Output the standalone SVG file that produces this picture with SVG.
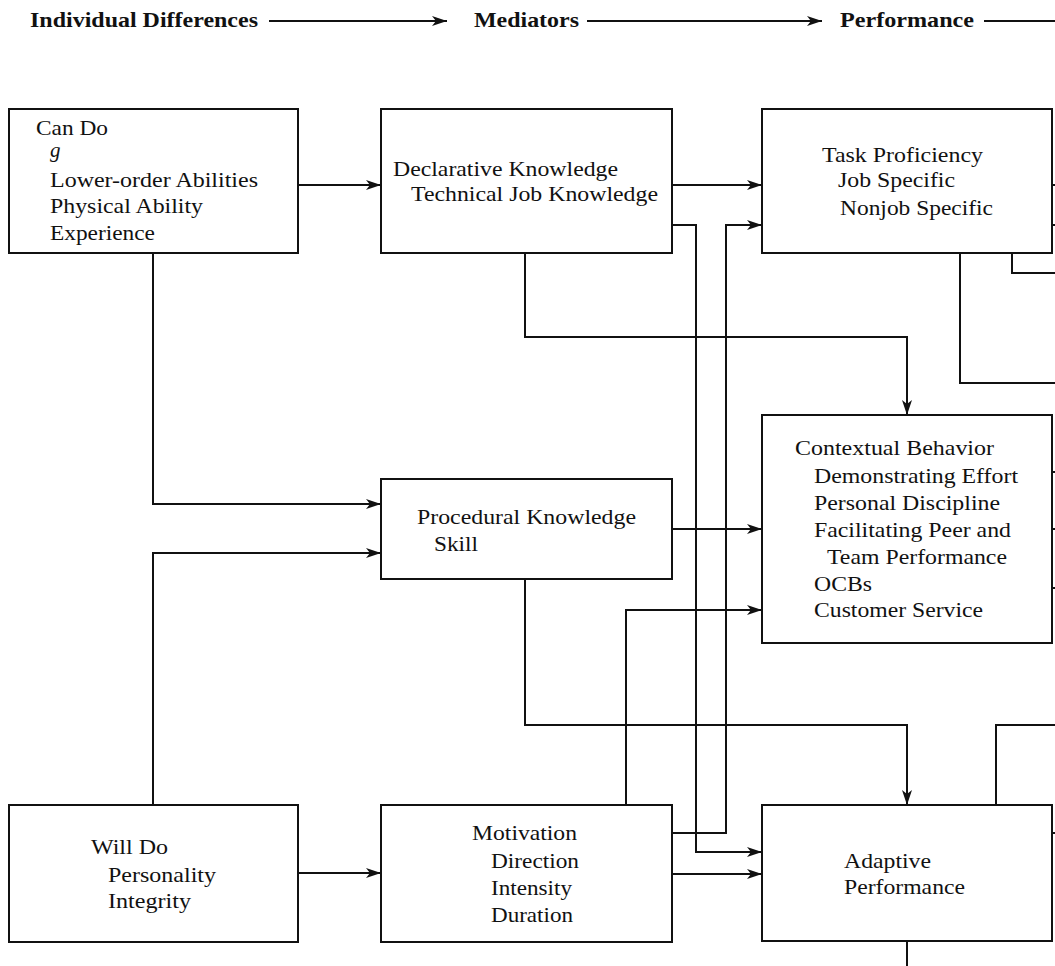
<svg xmlns="http://www.w3.org/2000/svg" width="1055" height="966" viewBox="0 0 1055 966">
<style>
.box{fill:#fff;stroke:#111;stroke-width:2}
.c{fill:none;stroke:#111;stroke-width:2}
.a{marker-end:url(#arr)}
text{font-family:"Liberation Serif","Times New Roman",Times,serif;font-size:21px;fill:#111}
.h{font-weight:bold}
</style>
<defs>
<marker id="arr" markerUnits="userSpaceOnUse" markerWidth="16" markerHeight="12" refX="15" refY="5" orient="auto">
<path d="M0,0 L15,5 L0,10 L4,5 z" fill="#111"/>
</marker>
</defs>
<rect width="1055" height="966" fill="#fff"/>
<g id="header">
<text class="h" x="30" y="27" textLength="228" lengthAdjust="spacingAndGlyphs">Individual Differences</text>
<text class="h" x="474" y="27" textLength="105" lengthAdjust="spacingAndGlyphs">Mediators</text>
<text class="h" x="840" y="27" textLength="134" lengthAdjust="spacingAndGlyphs">Performance</text>
</g>
<g id="connectors">
<path class="c a" d="M269,21 H447"/>
<path class="c a" d="M587,21 H822"/>
<path class="c" d="M984,21 H1055"/>
<path class="c a" d="M298,185 H381"/>
<path class="c a" d="M153,253 V504 H381"/>
<path class="c a" d="M153,805 V553 H381"/>
<path class="c a" d="M298,873 H381"/>
<path class="c a" d="M672,185 H762"/>
<path class="c a" d="M672,225 H696 V852 H762"/>
<path class="c a" d="M525,253 V337 H907 V415"/>
<path class="c a" d="M672,529 H762"/>
<path class="c a" d="M525,579 V725 H907 V805"/>
<path class="c a" d="M672,833 H726 V225 H762"/>
<path class="c a" d="M626,805 V610 H762"/>
<path class="c a" d="M672,874 H762"/>
<path class="c" d="M1052,185 H1055 M1052,225 H1055"/>
<path class="c" d="M960,253 V383 H1055"/>
<path class="c" d="M1012,253 V273 H1055"/>
<path class="c" d="M1052,472 H1055 M1052,529 H1055 M1052,588 H1055"/>
<path class="c" d="M996,805 V725 H1055"/>
<path class="c" d="M1052,833 H1055"/>
<path class="c" d="M907,941 V966"/>
</g>
<g id="can-do">
<rect class="box" x="9" y="109" width="289" height="144"/>
<text x="36" y="135" textLength="72" lengthAdjust="spacingAndGlyphs">Can Do</text>
<text x="50" y="157" font-style="italic" font-size="18">g</text>
<text x="50" y="187" textLength="208" lengthAdjust="spacingAndGlyphs">Lower-order Abilities</text>
<text x="50" y="213" textLength="153" lengthAdjust="spacingAndGlyphs">Physical Ability</text>
<text x="50" y="240" textLength="105" lengthAdjust="spacingAndGlyphs">Experience</text>
</g>
<g id="declarative">
<rect class="box" x="381" y="109" width="291" height="144"/>
<text x="393" y="176" textLength="225" lengthAdjust="spacingAndGlyphs">Declarative Knowledge</text>
<text x="411" y="201" textLength="247" lengthAdjust="spacingAndGlyphs">Technical Job Knowledge</text>
</g>
<g id="task">
<rect class="box" x="762" y="109" width="290" height="144"/>
<text x="822" y="162" textLength="161" lengthAdjust="spacingAndGlyphs">Task Proficiency</text>
<text x="838" y="187" textLength="117" lengthAdjust="spacingAndGlyphs">Job Specific</text>
<text x="840" y="215" textLength="153" lengthAdjust="spacingAndGlyphs">Nonjob Specific</text>
</g>
<g id="procedural">
<rect class="box" x="381" y="479" width="291" height="100"/>
<text x="417" y="524" textLength="219" lengthAdjust="spacingAndGlyphs">Procedural Knowledge</text>
<text x="434" y="551" textLength="44" lengthAdjust="spacingAndGlyphs">Skill</text>
</g>
<g id="contextual">
<rect class="box" x="762" y="415" width="290" height="228"/>
<text x="795" y="455" textLength="199" lengthAdjust="spacingAndGlyphs">Contextual Behavior</text>
<text x="814" y="483" textLength="204" lengthAdjust="spacingAndGlyphs">Demonstrating Effort</text>
<text x="814" y="510" textLength="186" lengthAdjust="spacingAndGlyphs">Personal Discipline</text>
<text x="814" y="537" textLength="197" lengthAdjust="spacingAndGlyphs">Facilitating Peer and</text>
<text x="827" y="564" textLength="180" lengthAdjust="spacingAndGlyphs">Team Performance</text>
<text x="814" y="591" textLength="58" lengthAdjust="spacingAndGlyphs">OCBs</text>
<text x="814" y="617" textLength="169" lengthAdjust="spacingAndGlyphs">Customer Service</text>
</g>
<g id="will-do">
<rect class="box" x="9" y="805" width="289" height="137"/>
<text x="91" y="854" textLength="77" lengthAdjust="spacingAndGlyphs">Will Do</text>
<text x="108" y="882" textLength="108" lengthAdjust="spacingAndGlyphs">Personality</text>
<text x="108" y="908" textLength="83" lengthAdjust="spacingAndGlyphs">Integrity</text>
</g>
<g id="motivation">
<rect class="box" x="381" y="805" width="291" height="137"/>
<text x="472" y="840" textLength="105" lengthAdjust="spacingAndGlyphs">Motivation</text>
<text x="491" y="868" textLength="88" lengthAdjust="spacingAndGlyphs">Direction</text>
<text x="491" y="895" textLength="81" lengthAdjust="spacingAndGlyphs">Intensity</text>
<text x="491" y="922" textLength="82" lengthAdjust="spacingAndGlyphs">Duration</text>
</g>
<g id="adaptive">
<rect class="box" x="762" y="805" width="290" height="136"/>
<text x="844" y="868" textLength="87" lengthAdjust="spacingAndGlyphs">Adaptive</text>
<text x="844" y="894" textLength="121" lengthAdjust="spacingAndGlyphs">Performance</text>
</g>
</svg>
